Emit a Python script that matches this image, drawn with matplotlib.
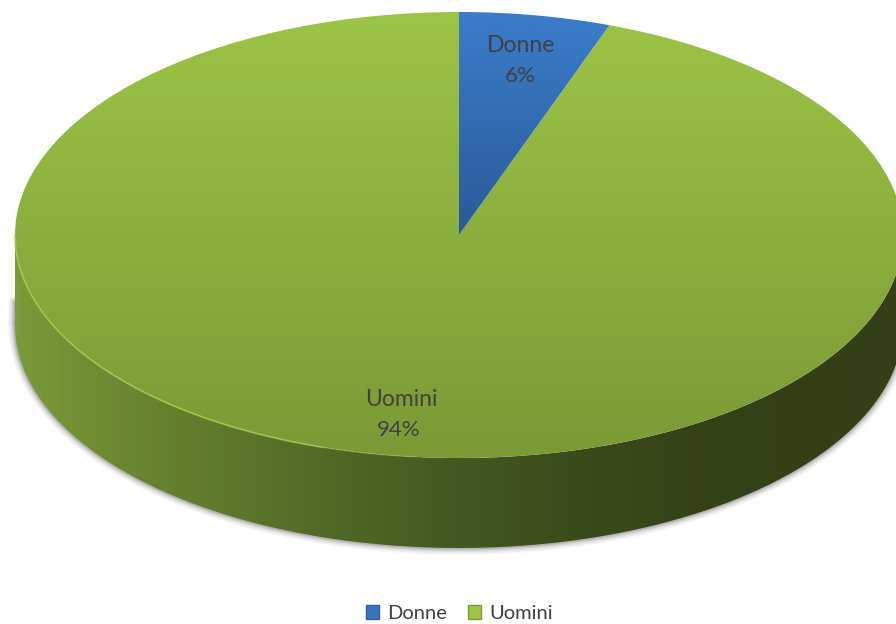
import numpy as np
import matplotlib
matplotlib.use('Agg')
import matplotlib.pyplot as plt
from matplotlib.colors import LinearSegmentedColormap
from matplotlib.patches import PathPatch, Patch
from matplotlib.path import Path

# DATA
categories = ['Donne', 'Uomini']
values = [5.5, 94.5]   # slice size, labels are rounded
pct_labels = ['6%', '94%']

plt.rcParams['font.family'] = ['Lato', 'DejaVu Sans']

W, H = 896, 624
CX, CY = 459, 235   # centre of the pie top, in pixels
RX, RY = 444, 223   # radii of the pie top, in pixels
DEPTH = 90 / RY

fig = plt.figure(figsize=(W / 100, H / 100), dpi=100)
ax = fig.add_axes([0, 0, 1, 1])

wedges, _ = ax.pie(values, startangle=90, counterclock=False, radius=1)

xlim = (-CX / RX, (W - CX) / RX)
ylim = ((CY - H) / RY, CY / RY)


def grad(colors):
    return LinearSegmentedColormap.from_list('g', colors)


ramp = np.linspace(0, 1, 256)

# soft shadow under the wall
t = np.linspace(np.pi * 0.98, np.pi * 2.02, 400)
sx = np.concatenate([[-1, -1], np.cos(t)])
sy = np.concatenate([[-0.3, -DEPTH], np.sin(t) - DEPTH])
for lw, a in [(10, 0.04), (8, 0.06), (6, 0.08), (4, 0.12), (2, 0.18)]:
    ax.plot(sx, sy, color='#404040', lw=lw, alpha=a, zorder=1, solid_capstyle='round')

# wall of the cylinder
t = np.linspace(np.pi, 2 * np.pi, 400)
wall_x = np.concatenate([np.cos(t), np.cos(t)[::-1]])
wall_y = np.concatenate([np.sin(t), np.sin(t)[::-1] - DEPTH])
wall_patch = PathPatch(Path(np.column_stack([wall_x, wall_y]), closed=False),
                       fc='none', ec='none', zorder=2)
ax.add_patch(wall_patch)
wall_cmap = grad([(0.0, '#7a9b39'), (0.12, '#6b8831'), (0.3, '#567029'),
                  (0.47, '#465b22'), (0.62, '#3b4d1b'), (0.78, '#344216'),
                  (1.0, '#333f16')])
im = ax.imshow(ramp[None, :], cmap=wall_cmap, extent=(-1, 1, -1 - DEPTH, 0),
               aspect='auto', zorder=2)
im.set_clip_path(wall_patch)

# pie top with vertical gradients
top_colors = [
    grad([(0, '#3b7dcb'), (1, '#2a5a97')]),
    grad([(0, '#9cc446'), (1, '#7a9a36')]),
]
extents = [(-1, 1, 0, 1), (-1, 1, -1, 1)]
for i in [1, 0]:
    w = wedges[i]
    w.set_facecolor('none')
    w.set_edgecolor('none')
    im = ax.imshow(ramp[:, None], cmap=top_colors[i], extent=extents[i],
                   aspect='auto', zorder=3 + (1 - i))
    im.set_clip_path(w)

# light rim along the lower left of the top, fading out
t = np.linspace(np.pi, 1.4 * np.pi, 200)
ax.plot(np.cos(t), np.sin(t), color='#a6cf4e', lw=1.3, alpha=0.75, zorder=5)
t = np.linspace(1.4 * np.pi, 1.47 * np.pi, 60)
ax.plot(np.cos(t), np.sin(t), color='#a6cf4e', lw=1.0, alpha=0.35, zorder=5)

ax.set_aspect('auto')
ax.set_xlim(xlim)
ax.set_ylim(ylim)
ax.axis('off')


def px(x, y):
    return (x - CX) / RX, (CY - y) / RY


label_pos = [(521, 46), (401, 399.5)]
pct_pos = [(520, 76), (399, 429.5)]
for name, pct, p1, p2 in zip(categories, pct_labels, label_pos, pct_pos):
    ax.text(*px(*p1), name, ha='center', va='center', fontsize=16.5, color='#404040', zorder=6)
    ax.text(*px(*p2), pct, ha='center', va='center', fontsize=16, color='#404040', zorder=6)

handles = [Patch(fc='#3a74bc', ec='#2d5f9e', lw=1), Patch(fc='#9cc446', ec='#7f9c3c', lw=1)]
ax.legend(handles, categories, loc='center', bbox_to_anchor=(459.5 / W, 1 - 613.5 / H),
          ncol=2, frameon=False, fontsize=14.5, labelcolor='#404040',
          handlelength=0.65, handleheight=0.65, handletextpad=0.4, columnspacing=1.05,
          borderpad=0)

fig.savefig('out.png', dpi=100)
